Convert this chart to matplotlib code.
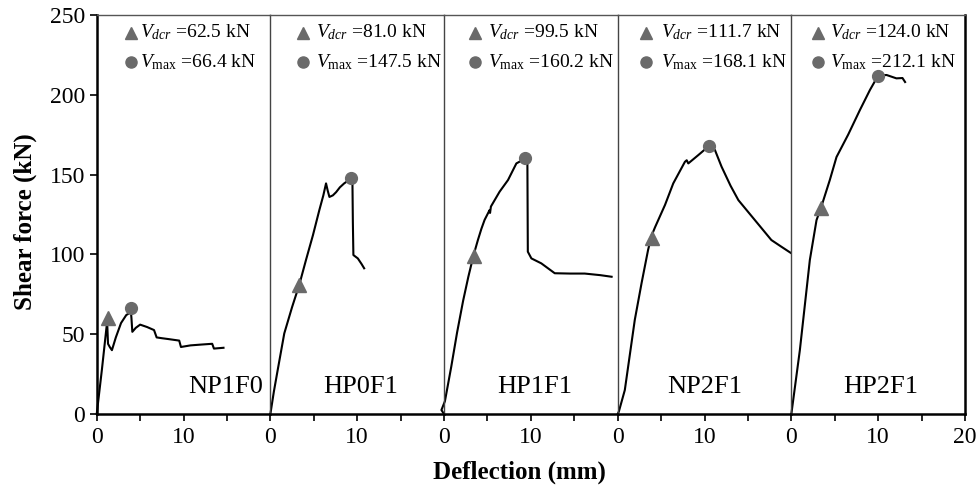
import numpy as np
import matplotlib
matplotlib.use('Agg')
import matplotlib.pyplot as plt

plt.rcParams['font.family'] = 'Liberation Serif'
plt.rcParams['mathtext.fontset'] = 'custom'
plt.rcParams['mathtext.rm'] = 'Liberation Serif'
plt.rcParams['mathtext.it'] = 'Liberation Serif:italic'

names = ['NP1F0', 'HP0F1', 'HP1F1', 'NP2F1', 'HP2F1']

# deflection (mm) / shear force (kN) curves
x_np1f0 = [0, 0.6, 1.2, 1.3, 1.5, 1.75, 2.2, 2.8, 3.4, 3.7, 3.9, 4.0, 4.1, 4.5, 5.0, 5.8, 6.6, 6.9, 7.5, 8.2, 9.5, 9.7, 10.8, 12.0, 13.3, 13.5, 14.6]
y_np1f0 = [0, 28, 58, 44, 42, 40, 48, 57, 62, 63, 66.4, 60, 51.5, 54, 56, 54.5, 52.6, 48, 47.5, 47, 46, 42, 43, 43.5, 44, 41, 41.5]

x_hp0f1 = [0, 0.4, 0.84, 1.6, 2.5, 3.33, 4.1, 4.9, 5.64, 6.1, 6.41, 6.6, 6.8, 7.2, 7.57, 8.0, 8.5, 9.3, 9.45, 9.5, 9.56, 10.07, 10.5, 10.8]
y_hp0f1 = [0, 14, 27.5, 50.5, 67, 81, 96.5, 112, 127.8, 137, 144.5, 140, 136, 137, 139, 142, 144.5, 147.5, 146, 120, 99.6, 97.5, 94, 91.3]

x_hp1f1 = [0, -0.3, 0.1, 0.83, 1.5, 2.2, 2.8, 3.4, 3.9, 4.3, 4.67, 5.25, 5.3, 5.4, 6.4, 7.37, 8.33, 8.9, 9.37, 9.6, 9.65, 10.06, 11.2, 12.75, 14.5, 16.2, 18.0, 19.3]
y_hp1f1 = [0, 2.5, 8, 29.6, 51, 71, 86, 99.5, 109, 116, 121.6, 127.8, 126, 130, 139.3, 146.6, 157, 158.7, 160.2, 158, 101.7, 97.5, 94.4, 88.2, 88, 88, 87, 86]

x_np2f1 = [0, 0.13, 0.82, 1.97, 2.75, 3.5, 3.9, 4.3, 5.45, 6.4, 7.74, 7.95, 8.13, 9.3, 10.55, 11.2, 11.96, 13.0, 13.9, 15.8, 17.7, 18.8, 20.0]
y_np2f1 = [0, 1.5, 15, 59, 82, 102.8, 111.7, 117, 131, 144.5, 158, 159, 157, 162.3, 168.1, 165.4, 155, 143, 134, 121.5, 109, 105, 100.7]

x_hp2f1 = [0, 0.98, 2.13, 2.9, 3.4, 4.43, 5.2, 6.54, 7.9, 9.05, 10.0, 10.97, 12.1, 12.8, 13.1]
y_hp2f1 = [0, 40, 96.5, 121.5, 129, 146.6, 161, 175, 190.5, 203, 212.1, 212.4, 210.3, 210.5, 208]

curves_x = [x_np1f0, x_hp0f1, x_hp1f1, x_np2f1, x_hp2f1]
curves_y = [y_np1f0, y_hp0f1, y_hp1f1, y_np2f1, y_hp2f1]

# diagonal cracking and peak points
dcr_x = [1.35, 3.33, 3.4, 3.9, 3.4]
dcr_y = [60, 81, 99, 110, 129]
max_x = [3.9, 9.3, 9.37, 10.55, 10.0]
max_y = [66.4, 147.7, 160.2, 168.1, 211.8]
V_dcr = ['62.5', '81.0', '99.5', '111.7', '124.0']
V_max = ['66.4', '147.5', '160.2', '168.1', '212.1']

# where the little legend sits in each panel
leg_x = [4.0, 3.8, 3.57, 3.3, 3.1]
txt_x = [5.0, 5.3, 5.1, 5.0, 4.45]
name_x = [14.8, 10.4, 10.4, 10.0, 10.27]

gray = '#6a6a6a'

fig, axes = plt.subplots(1, 5, sharey=True, figsize=(9.79, 4.93), dpi=100)
plt.subplots_adjust(left=0.0988, right=0.9857, top=0.9696, bottom=0.1602, wspace=0)

for i, ax in enumerate(axes):
    ax.plot(curves_x[i], curves_y[i], color='k', lw=1.5, zorder=2, clip_on=False)
    ax.plot(dcr_x[i], dcr_y[i], '^', color=gray, ms=10, zorder=3, clip_on=False)
    ax.plot(max_x[i], max_y[i], 'o', color=gray, ms=8.5, zorder=3)

    ax.plot(leg_x[i], 239, '^', color=gray, ms=8.5)
    ax.plot(leg_x[i], 220.5, 'o', color=gray, ms=8)
    ax.text(txt_x[i], 239, r'$V_{dcr}$ =' + V_dcr[i] + ' kN', fontsize=14, ha='left', va='center')
    ax.text(txt_x[i], 220.5, r'$V_{\mathrm{max}}$ =' + V_max[i] + ' kN', fontsize=14, ha='left', va='center')
    ax.text(name_x[i], 17, names[i], fontsize=19, ha='center', va='center')

    ax.set_xlim(0, 20)
    ax.set_ylim(0, 250)
    if i == 4:
        ax.set_xticks([0, 10, 20])
    else:
        ax.set_xticks([0, 10])
    ax.set_xticks([5, 15], minor=True)
    ax.tick_params(axis='x', which='both', direction='out', length=5, width=1.2, labelsize=17, pad=4)
    ax.tick_params(axis='y', direction='out', length=5, width=1.2, labelsize=17)

    ax.spines['bottom'].set_linewidth(1.8)
    ax.spines['top'].set_linewidth(1.0)
    ax.spines['top'].set_color('#555555')
    ax.spines['left'].set_linewidth(1.0)
    ax.spines['left'].set_color('#444444')
    ax.spines['right'].set_visible(False)
    if i > 0:
        ax.tick_params(axis='y', left=False)
    else:
        ax.spines['left'].set_linewidth(1.8)
        ax.spines['left'].set_color('k')

axes[4].spines['right'].set_visible(True)
axes[4].spines['right'].set_linewidth(1.8)
axes[0].set_yticks([0, 50, 100, 150, 200, 250])

fig.text(519 / 979, 1 - 472 / 493, 'Deflection (mm)', fontsize=18, fontweight='bold', ha='center', va='center')
fig.text(25 / 979, 1 - 222 / 493, 'Shear force (kN)', fontsize=18, fontweight='bold', ha='center', va='center', rotation=90)

plt.savefig('out.png', dpi=100)
